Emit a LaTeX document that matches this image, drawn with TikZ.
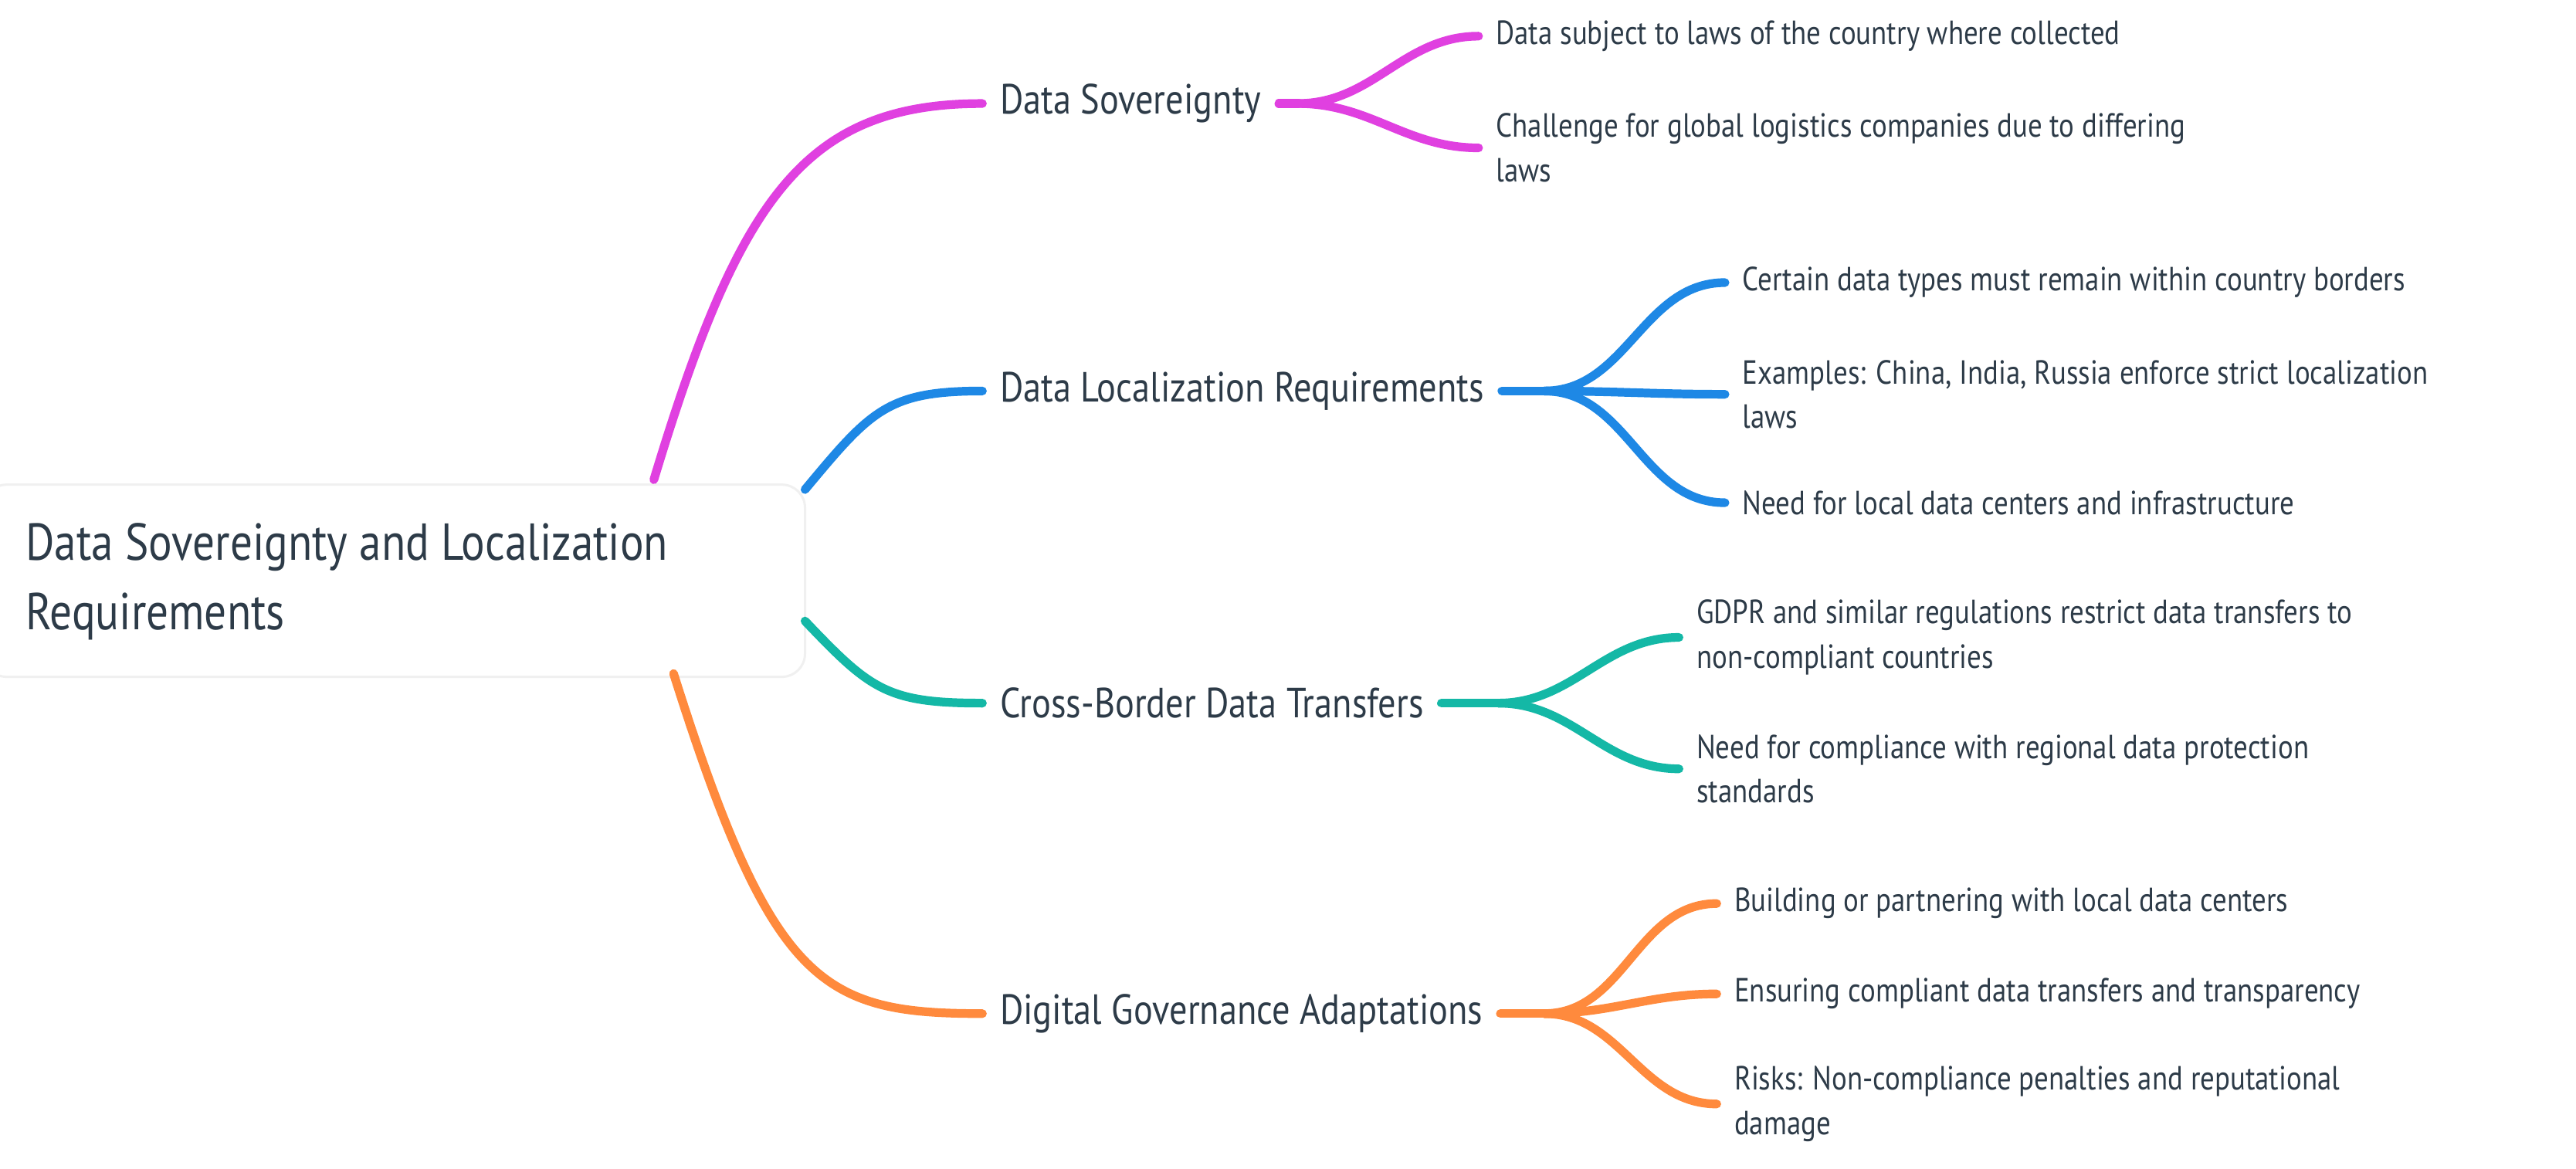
\documentclass[tikz,border=0pt]{standalone}
\usepackage{fontspec}
\setmainfont{PT Sans}[FakeStretch=0.85]
\definecolor{tx}{HTML}{2D3B48}
\definecolor{colM}{HTML}{E040E0}
\definecolor{colB}{HTML}{1E88E5}
\definecolor{colT}{HTML}{14B8A6}
\definecolor{colO}{HTML}{FF8A3D}
\begin{document}
\begin{tikzpicture}[
  br/.style={anchor=west,inner sep=0.1cm,text=tx,font=\fontsize{7.3}{9}\selectfont},
  lf/.style={anchor=west,inner sep=0.1cm,text=tx,align=left,font=\fontsize{5.8}{7.7}\selectfont},
  ln/.style={line width=1.5pt,line cap=round},
  lk/.style={ln,out=0,in=180}
]
\useasboundingbox (0,0) rectangle (15.68,-7.115);
\fill[white] (0,0) rectangle (15.68,-7.115);
\draw[gray!12,fill=white,rounded corners=4pt] (-0.1,-2.95) rectangle (4.9,-4.12);
\node (root) [anchor=west,inner sep=0.1cm,text=tx,align=left,font=\fontsize{9}{12}\selectfont] at (0.05,-3.54) {Data Sovereignty and Localization\\Requirements};
\coordinate (r1) at (3.98,-2.92);
\coordinate (r2) at (4.9,-2.98);
\coordinate (r3) at (4.9,-3.78);
\coordinate (r4) at (4.1,-4.1);

\node (b1) [br] at (5.98,-0.63) {Data Sovereignty};
\node (b2) [br] at (5.98,-2.38) {Data Localization Requirements};
\node (b3) [br] at (5.98,-4.28) {Cross-Border Data Transfers};
\node (b4) [br] at (5.98,-6.17) {Digital Governance Adaptations};

\draw[ln,colM] (r1) .. controls (4.5,-1.2) and (4.9,-0.63) .. (b1.west);
\draw[ln,colB] (r2) .. controls (5.3,-2.5) and (5.4,-2.38) .. (b2.west);
\draw[ln,colT] (r3) .. controls (5.3,-4.2) and (5.4,-4.28) .. (b3.west);
\draw[ln,colO] (r4) .. controls (4.7,-6.0) and (5.0,-6.17) .. (b4.west);

\node (l11) [lf] at (9.0,-0.22) {Data subject to laws of the country where collected};
\node (l12) [lf] at (9.0,-0.90) {Challenge for global logistics companies due to differing\\laws};
\node (l21) [lf] at (10.5,-1.72) {Certain data types must remain within country borders};
\node (l22) [lf] at (10.5,-2.40) {Examples: China, India, Russia enforce strict localization\\laws};
\node (l23) [lf] at (10.5,-3.06) {Need for local data centers and infrastructure};
\node (l31) [lf] at (10.22,-3.88) {GDPR and similar regulations restrict data transfers to\\non-compliant countries};
\node (l32) [lf] at (10.22,-4.68) {Need for compliance with regional data protection\\standards};
\node (l41) [lf] at (10.45,-5.50) {Building or partnering with local data centers};
\node (l42) [lf] at (10.45,-6.05) {Ensuring compliant data transfers and transparency};
\node (l43) [lf] at (10.45,-6.72) {Risks: Non-compliance penalties and reputational\\damage};

\coordinate (j1) at (7.9,-0.63);
\coordinate (j2) at (9.4,-2.38);
\coordinate (j3) at (9.12,-4.28);
\coordinate (j4) at (9.4,-6.17);
\draw[ln,colM] (b1.east) -- (j1);
\draw[ln,colB] (b2.east) -- (j2);
\draw[ln,colT] (b3.east) -- (j3);
\draw[ln,colO] (b4.east) -- (j4);
\draw[lk,colM] (j1) to (l11.west);
\draw[lk,colM] (j1) to (l12.west);
\draw[lk,colB] (j2) to (l21.west);
\draw[lk,colB] (j2) to (l22.west);
\draw[lk,colB] (j2) to (l23.west);
\draw[lk,colT] (j3) to (l31.west);
\draw[lk,colT] (j3) to (l32.west);
\draw[lk,colO] (j4) to (l41.west);
\draw[lk,colO] (j4) to (l42.west);
\draw[lk,colO] (j4) to (l43.west);
\end{tikzpicture}
\end{document}
